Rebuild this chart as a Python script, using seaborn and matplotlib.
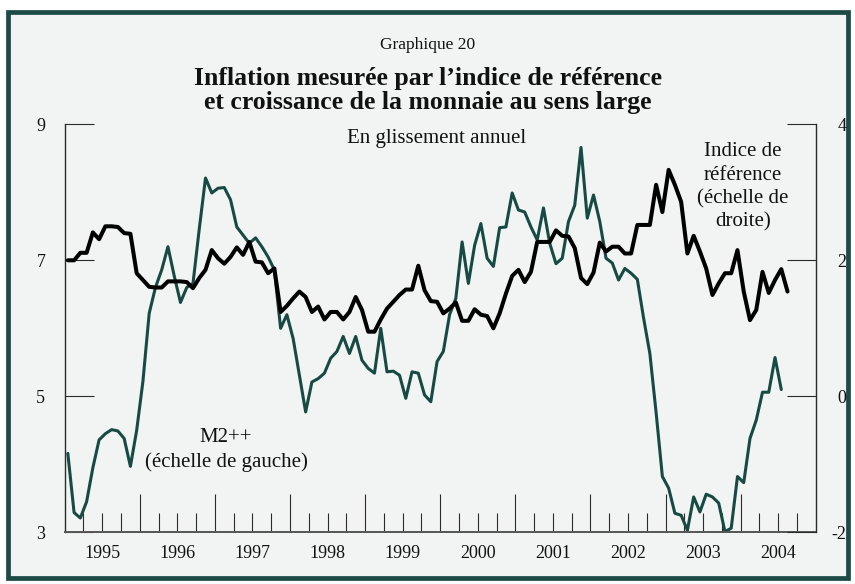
import numpy as np
import pandas as pd
import matplotlib
matplotlib.use("Agg")
import matplotlib.pyplot as plt
import seaborn as sns
from matplotlib.ticker import FixedLocator, FuncFormatter
from matplotlib.patches import Rectangle

# ---------------- data (monthly, year-over-year %) ----------------
start_year = 1995
m2_values = [
    4.16, 3.29, 3.21, 3.45, 3.95, 4.36, 4.45, 4.51, 4.49, 4.38, 3.97, 4.50,
    5.22, 6.22, 6.60, 6.86, 7.20, 6.77, 6.38, 6.60, 6.66, 7.46, 8.21, 7.99,
    8.06, 8.07, 7.89, 7.49, 7.37, 7.25, 7.33, 7.20, 7.05, 6.86, 6.00, 6.20,
    5.85, 5.31, 4.77, 5.21, 5.26, 5.34, 5.56, 5.66, 5.88, 5.63, 5.88, 5.53,
    5.41, 5.34, 6.00, 5.36, 5.37, 5.31, 4.97, 5.36, 5.34, 5.02, 4.92, 5.51,
    5.66, 6.20, 6.44, 7.27, 6.66, 7.22, 7.54, 7.03, 6.91, 7.48, 7.49, 7.99,
    7.74, 7.71, 7.49, 7.30, 7.77, 7.25, 6.95, 7.03, 7.57, 7.81, 8.66, 7.62,
    7.96, 7.57, 7.03, 6.96, 6.71, 6.88, 6.81, 6.72, 6.15, 5.63, 4.76, 3.82,
    3.65, 3.28, 3.25, 3.03, 3.52, 3.30, 3.56, 3.52, 3.43, 3.01, 3.06, 3.82,
    3.73, 4.38, 4.65, 5.06, 5.06, 5.57, 5.10,
]
ref_values = [
    2.00, 2.00, 2.11, 2.11, 2.41, 2.31, 2.50, 2.50, 2.49, 2.40, 2.39, 1.81,
    1.71, 1.61, 1.60, 1.60, 1.69, 1.69, 1.69, 1.68, 1.59, 1.74, 1.86, 2.15,
    2.03, 1.95, 2.05, 2.19, 2.08, 2.27, 1.98, 1.97, 1.81, 1.88, 1.24, 1.33,
    1.44, 1.54, 1.46, 1.24, 1.32, 1.13, 1.24, 1.24, 1.13, 1.24, 1.46, 1.27,
    0.95, 0.95, 1.13, 1.29, 1.39, 1.49, 1.57, 1.57, 1.92, 1.56, 1.40, 1.39,
    1.22, 1.29, 1.38, 1.11, 1.11, 1.28, 1.20, 1.18, 1.00, 1.22, 1.51, 1.77,
    1.86, 1.68, 1.83, 2.27, 2.27, 2.27, 2.44, 2.36, 2.35, 2.18, 1.74, 1.65,
    1.82, 2.26, 2.13, 2.20, 2.20, 2.10, 2.10, 2.52, 2.52, 2.52, 3.11, 2.71,
    3.33, 3.11, 2.86, 2.10, 2.36, 2.13, 1.88, 1.49, 1.66, 1.81, 1.81, 2.15,
    1.54, 1.12, 1.27, 1.83, 1.52, 1.71, 1.87, 1.54,
]
year_labels = [str(y) for y in range(1995, 2005)]
left_ticks = [3, 5, 7, 9]
right_ticks = [-2, 0, 2, 4]

def month_pos(n):
    # mid-month position in decimal years
    return [start_year + (i + 0.5) / 12 for i in range(n)]

df_m2 = pd.DataFrame({"date": month_pos(len(m2_values)), "value": m2_values})
df_ref = pd.DataFrame({"date": month_pos(len(ref_values)), "value": ref_values})

# ---------------- style ----------------
sns.set_theme(style="white")
plt.rcParams["font.family"] = ["Liberation Serif", "DejaVu Serif"]
plt.rcParams["axes.unicode_minus"] = False

bg = "#f2f4f3"
frame_col = "#1c4a44"
green = "#174a43"
tick_col = "#2a2a2a"
txt = "#111111"

W, H = 855, 584
fig = plt.figure(figsize=(W / 100, H / 100), dpi=100, facecolor="white")
fig.add_artist(Rectangle((8 / W, 1 - 578 / H), (848 - 8) / W, (578 - 12) / H,
                         transform=fig.transFigure, facecolor=bg,
                         edgecolor=frame_col, linewidth=3.4, zorder=-10))

x0, x1 = 64.7, 815.7
y0, y1 = 532.3, 124.3
ax = fig.add_axes([x0 / W, 1 - y0 / H, (x1 - x0) / W, (y0 - y1) / H])
ax.set_facecolor("none")
ax2 = ax.twinx()

sns.lineplot(data=df_m2, x="date", y="value", ax=ax, color=green, linewidth=2.2)
sns.lineplot(data=df_ref, x="date", y="value", ax=ax2, color="black", linewidth=2.9)

ax.set_xlim(1995, 2005)
ax.set_ylim(3, 9)
ax2.set_ylim(-2, 4)
ax.set_xlabel("")
ax.set_ylabel("")
ax2.set_ylabel("")

# spines
for s in ["top", "right"]:
    ax.spines[s].set_visible(False)
for s in ["top", "left", "bottom"]:
    ax2.spines[s].set_visible(False)
ax.spines["left"].set_color(tick_col)
ax.spines["left"].set_linewidth(1.0)
ax.spines["bottom"].set_color("#555555")
ax.spines["bottom"].set_linewidth(1.4)
ax2.spines["right"].set_color(tick_col)
ax2.spines["right"].set_linewidth(1.0)

# y ticks
ax.set_yticks(left_ticks)
ax.set_yticklabels([str(v) for v in left_ticks])
ax.tick_params(axis="y", direction="in", length=21, width=0.8, color=tick_col,
               pad=14, labelsize=13, labelcolor=txt, left=True)
ax2.set_yticks(right_ticks)
ax2.set_yticklabels([str(v) for v in right_ticks])
ax2.tick_params(axis="y", direction="in", length=21, width=0.8, color=tick_col,
                pad=22, labelsize=13, labelcolor=txt, right=True)
for lab in ax2.get_yticklabels():
    lab.set_horizontalalignment("right")

# x ticks: year boundaries (long), quarters (short), labels at mid-year
major = list(range(1996, 2005))
minor = [y + q for y in range(1995, 2005) for q in (0.25, 0.5, 0.75)]
ax.xaxis.set_major_locator(FixedLocator(major))
ax.xaxis.set_minor_locator(FixedLocator(minor))
ax.xaxis.set_major_formatter(FuncFormatter(lambda v, p: ""))
ax.xaxis.set_minor_formatter(
    FuncFormatter(lambda v, p: year_labels[int(v) - 1995] if abs(v - int(v) - 0.5) < 1e-6 else ""))
ax.tick_params(axis="x", which="major", direction="in", length=27.5, width=0.8,
               color=tick_col, bottom=True)
ax.tick_params(axis="x", which="minor", direction="in", length=13.7, width=0.8,
               color=tick_col, pad=9, labelsize=13, labelcolor=txt, bottom=True)

# ---------------- texts ----------------
def fx(px):
    return px / W

def fy(py):
    return 1 - py / H

fig.text(fx(428), fy(45), "Graphique 20", ha="center", va="center", fontsize=12.5, color=txt)
fig.text(fx(428), fy(79), "Inflation mesurée par l\u2019indice de référence", ha="center", va="center",
         fontsize=18.5, fontweight="bold", color=txt)
fig.text(fx(428), fy(102), "et croissance de la monnaie au sens large", ha="center", va="center",
         fontsize=18.5, fontweight="bold", color=txt)
fig.text(fx(437), fy(139), "En glissement annuel", ha="center", va="center", fontsize=15, color=txt)

fig.text(fx(743), fy(187), "Indice de\nréférence\n(échelle de\ndroite)", ha="center", va="center",
         fontsize=15, linespacing=1.3, color=txt)
fig.text(fx(226), fy(450), "M2++\n(échelle de gauche)", ha="center", va="center",
         fontsize=15, linespacing=1.3, color=txt)

fig.savefig("out.png", dpi=100, facecolor="white")
